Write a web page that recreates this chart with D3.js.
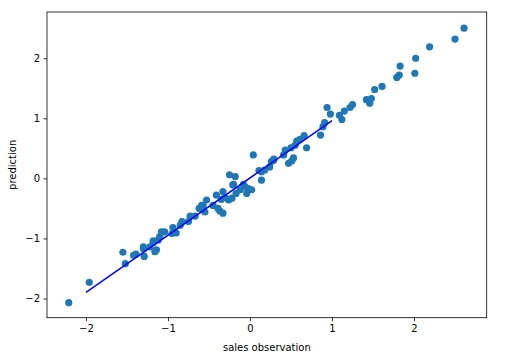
<!DOCTYPE html>
<html><head><meta charset="utf-8">
<script src="https://cdn.jsdelivr.net/npm/d3@7"></script>
<style>body{margin:0;background:#fff}svg{display:block}text{font-family:"DejaVu Sans",sans-serif}</style>
</head><body><svg id="c" width="513" height="357"></svg>
<script>
const obsX = [-2.21,-1.96,-1.55,-1.52,-1.42,-1.39,-1.30,-1.29,-1.30,-1.22,-1.18,-1.16,-1.14,-1.18,-1.12,-1.10,-1.08,-1.04,-0.95,-0.90,-0.94,-0.85,-0.83,-0.75,-0.73,-0.67,-0.62,-0.59,-0.55,-0.57,-0.53,-0.45,-0.41,-0.39,-0.37,-0.33,-0.30,-0.33,-0.35,-0.26,-0.22,-0.25,-0.18,-0.20,-0.21,-0.17,-0.12,-0.08,-0.06,-0.04,-0.02,0.02,0.04,0.14,0.11,0.14,0.18,0.24,0.29,0.26,0.29,0.47,0.41,0.43,0.51,0.53,0.50,0.55,0.57,0.61,0.66,0.69,0.86,0.89,0.91,0.94,0.98,1.12,1.09,1.15,1.22,1.25,1.42,1.46,1.48,1.52,1.61,1.79,1.82,1.83,2.01,2.02,2.19,2.50,2.61];
const predY = [-2.07,-1.73,-1.23,-1.42,-1.28,-1.26,-1.17,-1.30,-1.14,-1.14,-1.07,-1.22,-1.19,-1.04,-1.03,-0.97,-0.89,-0.89,-0.92,-0.91,-0.82,-0.78,-0.72,-0.72,-0.63,-0.63,-0.50,-0.45,-0.56,-0.45,-0.36,-0.45,-0.28,-0.50,-0.54,-0.58,-0.32,-0.22,-0.35,-0.36,-0.33,0.06,0.03,-0.10,-0.11,-0.25,-0.19,-0.10,-0.14,-0.25,-0.17,-0.19,0.39,-0.03,0.13,0.11,0.14,0.19,0.30,0.28,0.32,0.25,0.39,0.47,0.29,0.34,0.51,0.55,0.62,0.65,0.71,0.51,0.72,0.86,0.93,1.18,1.07,0.98,1.05,1.12,1.18,1.23,1.31,1.25,1.33,1.48,1.53,1.68,1.72,1.87,1.75,2.00,2.19,2.32,2.50];
const fitX = [-2.0, 1.0];
const fitY = [-1.9, 0.96];
const xTicks = [-2,-1,0,1,2];
const yTicks = [-2,-1,0,1,2];
const xLabel = "sales observation";
const yLabel = "prediction";

const W=513,H=357, m={l:47,r:26.3,t:12,b:39.3};
const svg=d3.select("#c");
const x=d3.scaleLinear().domain([-2.475,2.886]).range([m.l,W-m.r]);
const y=d3.scaleLinear().domain([-2.32,2.77]).range([H-m.b,m.t]);
const fmt=d=>d<0?"\u2212"+Math.abs(d):String(d);

const gx=svg.append("g").attr("transform",`translate(0,${H-m.b})`)
  .call(d3.axisBottom(x).tickValues(xTicks).tickFormat(fmt).tickSize(3.5).tickPadding(3.5));
const gy=svg.append("g").attr("transform",`translate(${m.l},0)`)
  .call(d3.axisLeft(y).tickValues(yTicks).tickFormat(fmt).tickSize(3.5).tickPadding(3.5));
[gx,gy].forEach(g=>{g.select(".domain").remove();g.selectAll("text").attr("font-size",10).attr("fill","#000").style("font-family","DejaVu Sans");g.selectAll("line").attr("stroke","#000").attr("stroke-width",0.8);});

svg.append("g").selectAll("circle").data(obsX.map((v,i)=>[v,predY[i]])).join("circle")
  .attr("cx",d=>x(d[0])).attr("cy",d=>y(d[1])).attr("r",3.6).attr("fill","#1f77b4");

svg.append("path").datum(fitX.map((v,i)=>[v,fitY[i]]))
  .attr("d",d3.line().x(d=>x(d[0])).y(d=>y(d[1]))).attr("fill","none").attr("stroke","#0000ff").attr("stroke-width",1.5);

svg.append("rect").attr("x",m.l).attr("y",m.t).attr("width",W-m.l-m.r).attr("height",H-m.t-m.b)
  .attr("fill","none").attr("stroke","#000").attr("stroke-width",0.8);

svg.append("text").attr("x",(m.l+W-m.r)/2).attr("y",350.5).attr("text-anchor","middle").attr("font-size",10).text(xLabel);
svg.append("text").attr("transform",`translate(15.5,${(m.t+H-m.b)/2}) rotate(-90)`).attr("text-anchor","middle").attr("font-size",10).text(yLabel);
</script></body></html>
